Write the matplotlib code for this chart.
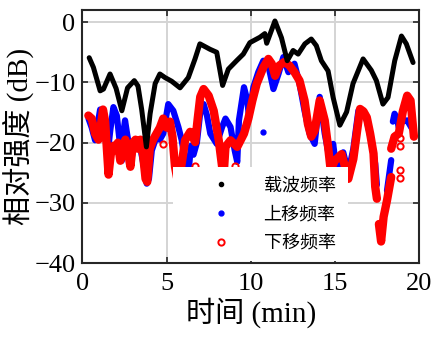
import matplotlib
matplotlib.use("Agg")
import matplotlib.pyplot as plt
from matplotlib.lines import Line2D
import numpy as np

nan = np.nan

# carrier (black)
carrier_t = [0.40, 0.65, 1.05, 1.25, 1.64, 2.0, 2.34, 2.68, 3.08, 3.3, 3.52, 3.80, 4.02, 4.32, 4.6, 4.91,
             5.3, 5.8, 6.29, 6.69, 6.98, 7.58, 7.98, 8.33, 8.67, 9.16, 9.56, 9.95, 10.55, 10.84, 10.95,
             11.44, 11.83, 12.17, 12.52, 12.82, 13.22, 13.6, 13.9, 14.2, 14.6, 14.9, 15.3, 15.7, 16.08,
             16.68, 17.17, 17.47, 17.86, 18.16, 18.56, 18.96, 19.25, 19.65]
carrier_db = [-5.9, -7.5, -11.4, -11.1, -8.6, -11.0, -14.7, -10.9, -9.7, -10.6, -14.5, -20.7, -15.2, -10.2,
              -8.6, -9.2, -9.8, -10.9, -9.2, -6.1, -3.6, -4.5, -5.0, -10.5, -7.8, -6.4, -5.3, -3.4, -2.5,
              -1.9, -3.5, 0.2, -2.6, -6.4, -4.7, -5.3, -3.6, -2.8, -3.9, -6.4, -8.1, -12.5, -17.1, -14.9,
              -10.2, -6.1, -8.0, -9.7, -13.6, -12.5, -6.4, -2.3, -3.6, -6.7]

# upper shifted frequency (blue)
upper_t = [0.36, 0.55, 0.75, 0.9, 1.05, 1.2, 1.35, 1.5, 1.65, 1.84, 2.04, 2.2, 2.34, 2.45, 2.53, 2.65, 2.8,
           2.93, 3.13, 3.3, 3.45, 3.65, 3.82, 3.95, 4.12, 4.4, 4.6, 4.8, 5.1, 5.4, 5.7, 5.9, 6.1, 6.3, 6.45,
           6.6, 6.8, 7.0, 7.2, 7.4, 7.6, 7.98, 8.3, 8.5, 8.8, 9.05, 9.2, 9.3, 9.6, 9.8, 9.9, 10.16, 10.45,
           10.75, 11.05, 11.35, 11.65, 11.94, 12.24, 12.6, 12.9, 13.2, 13.5, 13.8, 14.1, 14.4, 14.7, 14.9,
           15.1, 15.5, 15.8, 16.1, 16.4, 16.6, 16.9, 17.2, 17.4, 17.5, nan,
           18.1, 18.35, nan, 18.45, 18.55, 18.7, 18.8, nan, 19.0, 19.3, 19.55]
upper_db = [-16.0, -17.5, -19.6, -17.0, -14.5, -15.5, -19.0, -21.8, -18.0, -14.1, -15.5, -19.5, -23.0, -18.0,
            -16.3, -18.5, -21.0, -22.4, -19.6, -20.0, -21.0, -24.0, -26.8, -26.0, -21.3, -19.0, -19.5, -18.5,
            -13.6, -14.7, -17.4, -19.6, -23.0, -25.0, -20.5, -22.0, -20.0, -15.0, -13.6, -15.5, -18.5, -20.2,
            -17.4, -16.0, -17.4, -21.3, -23.2, -16.3, -10.8, -13.0, -15.8, -10.8, -8.3, -6.4, -7.2, -11.1,
            -8.6, -5.8, -8.3, -6.9, -10.2, -14.7, -18.5, -20.2, -12.4, -18.5, -22.9, -20.2, -24.5, -21.6,
            -25.0, -21.0, -14.7, -14.6, -16.3, -20.2, -23.5, -27.0, nan,
            -28.0, -22.9, nan, -16.5, -15.2, -16.0, -17.5, nan, -16.5, -16.3, -17.5]
upper_iso_t = [10.75]
upper_iso_db = [-18.3]

# lower shifted frequency (red)
lower_t = [0.35, 0.55, 0.75, 0.95, 1.1, 1.22, 1.35, 1.45, 1.55, 1.68, 1.85, 2.0, 2.1, 2.25, 2.4, 2.55, 2.7,
           2.85, 3.0, 3.15, 3.3, 3.45, 3.6, 3.75, 3.85, 4.0, 4.2, 4.4, 4.6, 4.8, 5.0, 5.2, 5.35, 5.5, 5.7,
           5.95, 6.1, 6.4, 6.7, 6.85, 7.0, 7.2, 7.5, 7.8, 8.1, 8.3, 8.4, 8.5, 8.8, 9.2, 9.6, 9.86, 10.1,
           10.36, 10.75, 11.05, 11.25, 11.45, 11.7, 12.0, 12.3, 12.6, 12.9, 13.2, 13.4, 13.6, 13.8, 14.1,
           14.4, 14.6, 14.75, 15.0, 15.4, 15.8, 16.1, 16.5, 16.7, 16.9, 17.1, 17.3, 17.4, 17.5, nan,
           17.62, 17.75, 17.9, 18.1, 18.35, nan, 18.35, 18.55, 18.8, 19.05, 19.3, 19.5, 19.7]
lower_db = [-15.5, -16.0, -18.5, -19.5, -17.0, -14.5, -16.5, -21.0, -25.3, -22.0, -20.5, -21.0, -20.0, -23.0,
            -21.0, -19.5, -21.5, -24.0, -20.0, -19.5, -21.0, -19.5, -22.0, -26.0, -26.5, -21.0, -19.5, -18.5,
            -17.5, -16.0, -17.5, -16.5, -19.0, -24.0, -27.0, -22.5, -19.6, -18.2, -19.9, -16.0, -12.4, -11.1,
            -12.2, -14.7, -19.6, -24.0, -25.0, -20.7, -19.6, -20.7, -18.5, -16.0, -13.0, -10.2, -7.5, -6.1,
            -6.9, -8.9, -7.2, -6.6, -7.2, -8.3, -9.7, -13.0, -16.9, -19.0, -18.0, -13.0, -16.3, -20.7, -24.5,
            -23.0, -21.9, -26.0, -22.7, -14.4, -14.8, -15.8, -18.5, -21.8, -27.3, -29.3, nan,
            -33.5, -36.4, -32.3, -29.6, -25.7, nan, -21.0, -19.0, -18.5, -14.7, -12.2, -13.0, -19.0]
lower_iso_t = [4.81, 6.69, 9.07, 18.9, 18.9, 18.9, 18.9]
lower_iso_db = [-20.3, -23.8, -23.8, -19.3, -20.5, -24.5, -25.8]

labels = ["载波频率", "上移频率", "下移频率"]

plt.rcParams["font.family"] = ["Liberation Serif", "Noto Sans CJK SC"]

fig = plt.figure(figsize=(4.41, 3.37), dpi=100)
ax = fig.add_axes([0.187, 0.219, 0.763, 0.751])

ax.plot(upper_t, upper_db, color="#0000ff", lw=4.5, solid_capstyle="round", zorder=2)
ax.plot(upper_iso_t, upper_iso_db, "o", color="#0000ff", ms=3.5, zorder=2)
ax.plot(lower_t, lower_db, color="#ff0000", lw=6.0, solid_capstyle="round", zorder=3)
ax.plot(lower_iso_t, lower_iso_db, "o", mfc="none", mec="#ff0000", ms=4.5, mew=1.4, zorder=3)
ax.plot(carrier_t, carrier_db, color="black", lw=3.6, solid_capstyle="round", zorder=4)

ax.set_xlim(0, 20)
ax.set_ylim(-40, 2)
ax.set_xticks([0, 5, 10, 15, 20])
ax.set_yticks([-40, -30, -20, -10, 0])
ax.grid(True, color="#d4d4d4", lw=1.4)
ax.set_axisbelow(True)
ax.tick_params(direction="in", top=True, right=True, length=4, width=1.2, labelsize=19,
               colors="#262626", labelcolor="black")
ax.tick_params(axis="x", pad=7)
ax.tick_params(axis="y", pad=5)
for sp in ax.spines.values():
    sp.set_linewidth(1.5)
    sp.set_color("#262626")

ax.set_xlabel("时间 (min)", fontsize=21, labelpad=2)
ax.set_ylabel("相对强度 (dB)", fontsize=21, labelpad=0)

handles = [
    Line2D([], [], ls="none", marker="o", color="black", ms=3),
    Line2D([], [], ls="none", marker="o", color="#0000ff", ms=3.5),
    Line2D([], [], ls="none", marker="o", mfc="none", mec="#ff0000", ms=4.5, mew=1.4),
]
leg = ax.legend(handles, labels, loc="upper left", bbox_to_anchor=(0.27, 0.38, 0.52, 0.0), mode="expand",
                prop={"family": ["Noto Sans CJK SC"], "size": 13}, frameon=True, fancybox=False,
                handlelength=4.3, handletextpad=0.2, labelspacing=0.62, borderpad=0.5, borderaxespad=0)
leg.get_frame().set_facecolor("white")
leg.get_frame().set_edgecolor("none")
leg.get_frame().set_alpha(1)
leg.set_zorder(10)

fig.savefig("out.png", dpi=100)
